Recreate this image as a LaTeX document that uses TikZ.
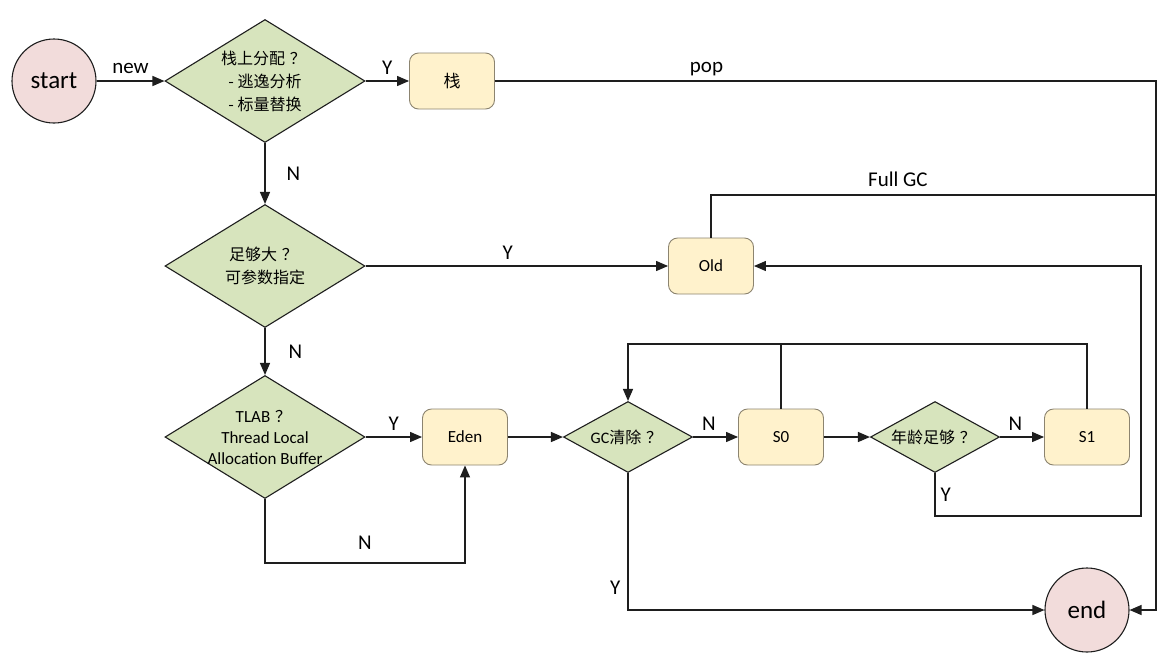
\documentclass[tikz,border=0pt]{standalone}
\usepackage{fontspec}
\setmainfont{Carlito}
\newfontfamily\cjk{Noto Sans CJK SC}
\usetikzlibrary{shapes.geometric,arrows.meta}
\definecolor{dgreen}{RGB}{215,228,189}
\definecolor{byellow}{RGB}{255,242,204}
\definecolor{boxedge}{RGB}{140,132,112}
\definecolor{pinkf}{RGB}{242,220,219}
\definecolor{edge}{RGB}{30,30,30}
\newcommand\fwq{\kern0.3em？\kern0.2em}
\tikzset{
  dec/.style={diamond, draw=edge, fill=dgreen, line width=1.1pt, minimum width=200, minimum height=123, inner sep=0pt},
  decs/.style={diamond, draw=edge, fill=dgreen, line width=1.1pt, minimum width=129, minimum height=71, inner sep=0pt},
  dtext/.style={align=center, inner sep=0pt, font=\fontsize{16}{23}\selectfont},
  stbox/.style={rectangle, rounded corners=9pt, draw=boxedge, fill=byellow, line width=0.9pt, minimum width=85, minimum height=56, font=\fontsize{17}{20}\selectfont},
  term/.style={circle, draw=edge, fill=pinkf, line width=1.1pt, minimum size=84, inner sep=0pt, font=\fontsize{25}{28}\selectfont},
  lbl/.style={font=\fontsize{21}{23}\selectfont, inner sep=3pt},
  arr/.style={-{Triangle[length=12pt,width=10pt]}, line width=1.3pt, draw=edge},
  ln/.style={line width=1.3pt, draw=edge}
}
\begin{document}
\begin{tikzpicture}[x=1pt,y=-1pt]
\useasboundingbox (0,0) rectangle (1173,665);
\fill[white] (0,0) rectangle (1173,665);
% nodes
\node[term] (start) at (54,81) {start};
\node[dec] (d1) at (265,81) {};
\node[dtext] (d1t) at (d1) {{\cjk 栈上分配\fwq}\\{\cjk - 逃逸分析}\\{\cjk - 标量替换}};
\node[stbox] (stk) at (452,81) {\fontsize{17}{20}\cjk 栈};
\node[dec] (d2) at (265,266) {};
\node[dtext] (d2t) at (d2) {{\cjk 足够大\fwq}\\{\cjk 可参数指定}};
\node[stbox] (old) at (711,266) {Old};
\node[dec] (d3) at (265,437) {};
\node[dtext, font=\fontsize{17}{21}\selectfont] (d3t) at (d3) {TLAB{\fontsize{16}{21}\cjk\fwq}\\Thread Local\\Allocation Buffer};
\node[stbox] (eden) at (465,437) {Eden};
\node[decs] (d4) at (628,437) {};
\node[dtext] (d4t) at (d4) {GC{\cjk 清除\fwq}};
\node[stbox] (s0) at (781,437) {S0};
\node[decs] (d5) at (935,437) {};
\node[dtext] (d5t) at (d5) {{\cjk 年龄足够\fwq}};
\node[stbox] (s1) at (1087,437) {S1};
\node[term] (end) at (1087,610) {end};
\coordinate (rx) at (1156,0);
\coordinate (ox) at (1141,0);
% connectors
\draw[arr] (start) -- node[lbl, above=4pt] {new} (d1);
\draw[arr] (d1.east) -- node[lbl, above=3pt] {Y} (stk.west);
\draw[arr] (stk.east) -- node[lbl, above=1pt, pos=0.32] {pop} (stk.east -| rx) |- (end.east);
\draw[arr] (d1.south) -- node[lbl, right=18pt] {N} (d2.north);
\draw[arr] (d2.east) -- node[lbl, above=3pt, pos=0.47] {Y} (old.west);
\draw[ln] (old.north) |- node[lbl, above=5pt, pos=0.71] {Full GC} (0,195 -| rx);
\draw[arr] (d2.south) -- node[lbl, right=20pt] {N} (d3.north);
\draw[arr] (d3.east) -- node[lbl, above=3pt] {Y} (eden.west);
\draw[arr] (d3.south) -- (d3.south |- 0,563) -- node[lbl, above=10pt] {N} (eden.south |- 0,563) -- (eden.south);
\draw[arr] (eden.east) -- (d4.west);
\draw[arr] (d4.east) -- node[lbl, above=3pt, pos=0.35] {N} (s0.west);
\draw[arr] (s0.east) -- (d5.west);
\draw[arr] (d5.east) -- node[lbl, above=3pt, pos=0.35] {N} (s1.west);
\draw[ln] (s0.north) -- (s0.north |- 0,344);
\draw[arr] (s1.north) |- (d4.north |- 0,344) -- (d4.north);
\draw[arr] (d5.south) |- node[lbl, right=2pt, pos=0.25] {Y} (0,516 -| ox) |- (old.east);
\draw[arr] (d4.south) |- node[lbl, left=4pt, pos=0.42] {Y} (end.west);
\end{tikzpicture}
\end{document}
